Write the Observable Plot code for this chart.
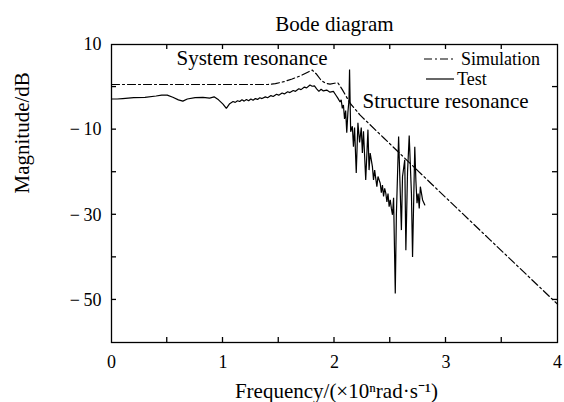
<!DOCTYPE html>
<html><head><meta charset="utf-8">
<script src="https://cdn.jsdelivr.net/npm/d3@7"></script>
<script src="https://cdn.jsdelivr.net/npm/@observablehq/plot@0.6"></script>
<style>
body{margin:0;background:#fff}
svg{font-family:"Liberation Serif","Times New Roman",serif}
</style>
</head><body><div id="chart"></div>
<script>
// Simulation curve (dash-dot)
const simFreq = [0, 1.40, 1.47, 1.55, 1.62, 1.70, 1.76, 1.80, 1.84, 1.88, 1.92, 1.96, 2.00, 2.03, 2.07, 2.14, 2.23, 2.44, 2.88, 3.40, 4.00];
const simMag  = [0.6, 0.6, 0.8, 1.3, 1.9, 2.7, 3.5, 4.0, 3.0, 1.6, 0.9, 0.7, 0.9, 1.0, -0.6, -3.8, -6.6, -11.9, -23.0, -36.0, -51.0];

// Test curve (solid)
const testFreq = [0.00,0.05,0.10,0.20,0.30,0.40,0.45,0.50,0.55,0.60,0.64,0.68,0.75,0.82,0.88,0.92,0.96,1.00,1.03,1.06,
  1.09,1.11,1.13,1.15,1.17,1.19,1.21,1.23,1.25,1.27,1.29,1.31,1.33,1.35,1.38,1.40,1.43,1.45,1.48,1.50,
  1.53,1.55,1.58,1.60,1.63,1.65,1.68,1.70,1.73,1.75,1.78,1.80,1.82,1.84,1.86,1.88,1.90,1.93,1.96,1.99,
  2.01,2.03,2.05,2.06,2.07,2.08,2.09,2.10,2.11,2.12,2.13,2.135,2.145,2.16,2.17,2.18,2.195,2.21,2.225,2.24,
  2.25,2.26,2.28,2.30,2.31,2.32,2.34,2.35,2.36,2.38,2.39,2.41,2.42,2.43,2.44,2.45,2.46,2.47,2.48,2.49,
  2.50,2.51,2.52,2.53,2.545,2.555,2.575,2.59,2.60,2.61,2.63,2.64,2.655,2.67,2.69,2.70,2.72,2.73,2.74,2.75,
  2.76,2.77,2.79,2.81];
const testMag = [-2.8,-2.8,-2.7,-2.5,-2.4,-2.1,-1.9,-1.9,-2.4,-3.0,-3.3,-2.8,-2.5,-2.4,-2.6,-2.3,-3.0,-4.0,-5.0,-3.9,
  -3.4,-3.6,-3.2,-3.4,-3.0,-3.3,-2.9,-3.2,-2.8,-3.1,-2.7,-2.9,-2.5,-2.7,-2.3,-2.5,-2.0,-2.2,-1.7,-1.9,
  -1.4,-1.6,-1.1,-1.3,-0.8,-1.0,-0.4,-0.6,0.0,-0.2,0.5,0.2,0.3,-0.4,-1.0,-0.5,-0.9,-0.7,-1.2,-1.0,
  -1.8,-2.6,-3.5,-3.0,-5.0,-4.2,-7.5,-5.5,-10.7,-6.0,-3.0,4.1,-10.5,-9.2,-14.0,-9.5,-20.2,-8.4,-13.0,-9.5,
  -15.5,-10.4,-21.8,-10.0,-19.5,-15.5,-18.7,-21.8,-19.5,-23.4,-21.0,-22.6,-24.8,-23.0,-25.7,-23.8,-24.9,-27.0,-25.0,-28.1,
  -26.5,-28.5,-30.0,-26.0,-48.5,-30.0,-11.6,-25.0,-33.6,-21.0,-17.1,-38.3,-20.0,-11.4,-25.0,-39.9,-14.0,-22.0,-27.3,-25.0,
  -28.5,-23.4,-26.5,-27.7];

const xTickLabels = [0, 1, 2, 3, 4];
const xTicks = [0.5, 1, 1.5, 2, 2.5, 3, 3.5];
const yTickLabels = [10, -10, -30, -50];
const yTicks = [0, -10, -20, -30, -40, -50];
const titleText = "Bode diagram";
const xLabel = "Frequency/(×10ⁿrad·s⁻¹)";
const yLabel = "Magnitude/dB";
const annotationText = ["System resonance", "Structure resonance"];
const annotationX = [0.583, 2.251];
const annotationY = [5.07, -4.8];
const legendLabels = ["Simulation", "Test"];

const sim = simFreq.map((f, i) => ({f, m: simMag[i]}));
const test = testFreq.map((f, i) => ({f, m: testMag[i]}));
const notes = annotationText.map((t, i) => ({t, x: annotationX[i], y: annotationY[i]}));
const fmtY = d => d < 0 ? "\u2212\u2009" + (-d) : String(d);

const W = 564, H = 402, mT = 44, mB = 60, mL = 111, mR = 7;
const tk = 5;

const chart = Plot.plot({
  width: W, height: H,
  marginTop: mT, marginBottom: mB, marginLeft: mL, marginRight: mR,
  style: {fontFamily: '"Liberation Serif","Times New Roman",serif', fontSize: "18px", color: "#000", background: "#fff", overflow: "visible"},
  x: {domain: [0, 4]},
  y: {domain: [-60, 10]},
  marks: [
    Plot.axisX(xTickLabels, {anchor: "bottom", tickSize: 0, tickPadding: 13, label: null, fontSize: 18}),
    Plot.axisY(yTickLabels, {anchor: "left", tickSize: 0, tickPadding: 10, label: null, fontSize: 18, tickFormat: fmtY}),
    Plot.frame({stroke: "#000", strokeWidth: 1.3}),
    Plot.line(sim, {x: "f", y: "m", stroke: "#000", strokeWidth: 1.2, strokeDasharray: "8,3,2,3"}),
    Plot.line(test, {x: "f", y: "m", stroke: "#000", strokeWidth: 1.2, strokeLinejoin: "miter"}),
    Plot.text(notes, {x: "x", y: "y", text: "t", textAnchor: "start", lineAnchor: "bottom", fontSize: 21}),
    Plot.text([titleText], {frameAnchor: "top", dy: -14, lineAnchor: "bottom", fontSize: 21}),
    Plot.text([xLabel], {frameAnchor: "bottom", dx: 2, dy: 55, lineAnchor: "bottom", fontSize: 21}),
    Plot.text([yLabel], {frameAnchor: "left", rotate: -90, dx: -97, lineAnchor: "top", fontSize: 21})
  ]
});

const svgSel = d3.select(chart);
const xScale = chart.scale("x"), yScale = chart.scale("y");
const frameL = mL, frameR = W - mR, frameT = mT, frameB = H - mB;

// inward ticks on all four sides, positioned by the plot's own scales
const tickG = svgSel.append("g").attr("stroke", "#000").attr("stroke-width", 1.3);
xTicks.forEach(v => {
  const px = xScale.apply(v);
  tickG.append("line").attr("x1", px).attr("x2", px).attr("y1", frameB).attr("y2", frameB - tk);
  tickG.append("line").attr("x1", px).attr("x2", px).attr("y1", frameT).attr("y2", frameT + tk);
});
yTicks.forEach(v => {
  const py = yScale.apply(v);
  tickG.append("line").attr("x1", frameL).attr("x2", frameL + tk).attr("y1", py).attr("y2", py);
  tickG.append("line").attr("x1", frameR).attr("x2", frameR - tk).attr("y1", py).attr("y2", py);
});

// Legend in the top-right corner of the frame
const legG = svgSel.append("g").attr("fill", "#000").attr("font-size", 18).attr("text-anchor", "start");
const legendDash = ["8,3,2,3", null];
legendLabels.forEach((label, i) => {
  const yLine = 59 + i * 20;
  const x0 = frameR - 133 + (i ? 2 : 0), x1 = frameR - 102 - (i ? 1 : 0);
  legG.append("line").attr("x1", x0).attr("x2", x1).attr("y1", yLine).attr("y2", yLine)
    .attr("stroke", "#000").attr("stroke-width", 1.2).attr("stroke-dasharray", legendDash[i]);
  legG.append("text").attr("x", x1 + (i ? 3 : 6)).attr("y", yLine + 6).attr("text-anchor", "start").text(label);
});

document.getElementById("chart").appendChild(chart);
</script>
</body></html>
